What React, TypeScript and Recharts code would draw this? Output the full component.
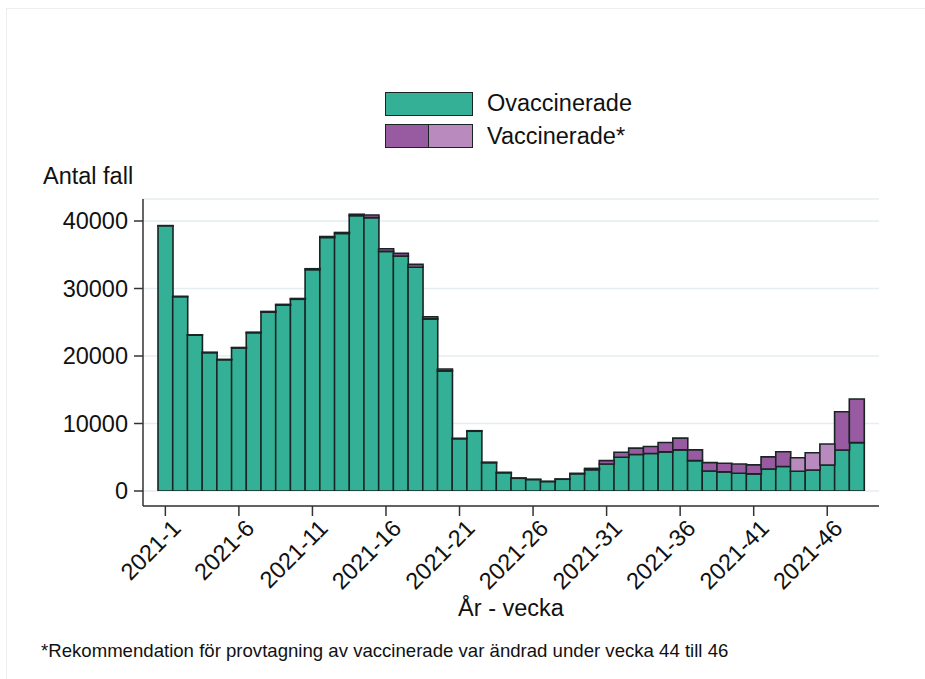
import React from 'react';
import { BarChart, Bar, XAxis, YAxis, CartesianGrid } from 'recharts';

/* ── Data ─────────────────────────────────────────────────────────── */
const weeks = Array.from({ length: 48 }, (_, i) => `2021-${i + 1}`);

// Unvaccinated cases per week
const ovaccinerade = [
  39300, 28800, 23100, 20500, 19450, 21200, 23450, 26500, 27550, 28400,
  32800, 37550, 38150, 40800, 40500, 35500, 34800, 33150, 25500, 17800,
  7750, 8850, 4200, 2700, 1880, 1700, 1400, 1740, 2550, 3150,
  4000, 5000, 5400, 5550, 5800, 6100, 4500, 2970, 2830, 2630,
  2530, 3270, 3620, 2920, 3110, 3850, 6070, 7160,
];

// Vaccinated cases (normal testing recommendation)
const vaccinerade = [
  20, 20, 30, 40, 50, 60, 80, 100, 100, 120,
  130, 150, 150, 200, 400, 400, 410, 430, 320, 270,
  60, 80, 50, 70, 50, 30, 30, 40, 70, 200,
  500, 750, 950, 1040, 1380, 1730, 1600, 1240, 1280, 1370,
  1340, 1790, 2200, 0, 0, 0, 5680, 6470,
];

// Vaccinated cases, weeks 44–46 (changed testing recommendation)
const vaccineradeAndrad = [
  0, 0, 0, 0, 0, 0, 0, 0, 0, 0, 0, 0, 0, 0, 0, 0, 0, 0, 0, 0,
  0, 0, 0, 0, 0, 0, 0, 0, 0, 0, 0, 0, 0, 0, 0, 0, 0, 0, 0, 0,
  0, 0, 0, 2010, 2560, 3110, 0, 0,
];

const yTicks = [0, 10000, 20000, 30000, 40000];

const data = weeks.map((week, i) => ({
  week,
  ovacc: ovaccinerade[i],
  vacc: vaccinerade[i],
  vaccAndrad: vaccineradeAndrad[i],
}));

const GREEN = '#33b096';
const PURPLE = '#985aa0';
const PURPLE_LIGHT = '#b98abd';
const STROKE = '#1b2424';
const FONT = '"Liberation Sans", Arial, sans-serif';
const FS = 23.5;

/* ── Rotated x tick ───────────────────────────────────────────────── */
// eslint-disable-next-line @typescript-eslint/no-explicit-any
function XTick(props: any) {
  const { x, y, payload } = props;
  return (
    <g transform={`translate(${x + 5},${y})`}>
      <text x={0} y={0} dy="0.71em" textAnchor="end" transform="rotate(-45)"
        fill="#111" fontSize={FS} fontFamily={FONT}>
        {payload.value}
      </text>
    </g>
  );
}

export default function App() {
  return (
    <div style={{ position: 'absolute', left: 0, top: 0, width: 925, height: 679, overflow: 'hidden', background: '#fff', fontFamily: FONT }}>
      <div style={{ position: 'absolute', left: 6, top: 8, width: 940, height: 700, border: '1px solid #eeeeee' }} />

      {/* Legend */}
      <div style={{ position: 'absolute', left: 385, top: 92, width: 86, height: 22, background: GREEN, border: `1px solid ${STROKE}` }} />
      <div style={{ position: 'absolute', left: 385, top: 124, width: 43, height: 22, background: PURPLE, border: `1px solid ${STROKE}`, borderRight: 'none' }} />
      <div style={{ position: 'absolute', left: 428, top: 124, width: 43, height: 22, background: PURPLE_LIGHT, border: `1px solid ${STROKE}` }} />
      <div style={{ position: 'absolute', left: 487, top: 89, fontSize: FS, lineHeight: '28px', color: '#111' }}>Ovaccinerade</div>
      <div style={{ position: 'absolute', left: 487, top: 122, fontSize: FS, lineHeight: '28px', color: '#111' }}>Vaccinerade*</div>

      {/* Y title */}
      <div style={{ position: 'absolute', left: 43, top: 162, fontSize: FS, lineHeight: '28px', color: '#111' }}>Antal fall</div>

      <div style={{ position: 'absolute', left: 0, top: 0 }}>
        <BarChart width={925} height={679} data={data}
          margin={{ top: 199, right: 46, bottom: 73, left: 0 }}
          barCategoryGap={0} barGap={0}>
          <CartesianGrid horizontal vertical={false} stroke="#e6edf1" strokeWidth={1.5} />
          <XAxis dataKey="week" interval={4} height={100}
            padding={{ left: 15, right: 15 }}
            axisLine={{ stroke: '#333', strokeWidth: 1.5 }}
            tickLine={{ stroke: '#333', strokeWidth: 1.5 }}
            tickSize={10} tickMargin={2}
            tick={<XTick />} />
          <YAxis width={143} domain={[0, 43260]} ticks={yTicks} allowDataOverflow
            padding={{ top: 0, bottom: 15 }}
            axisLine={{ stroke: '#333', strokeWidth: 1.5 }}
            tickLine={{ stroke: '#333', strokeWidth: 1.5 }}
            tickSize={9} tickMargin={6}
            tick={{ fill: '#111', fontSize: FS, fontFamily: FONT }} />
          <Bar dataKey="ovacc" stackId="a" fill={GREEN} stroke={STROKE} strokeWidth={1.6} isAnimationActive={false} />
          <Bar dataKey="vacc" stackId="a" fill={PURPLE} stroke={STROKE} strokeWidth={1.6} isAnimationActive={false} />
          <Bar dataKey="vaccAndrad" stackId="a" fill={PURPLE_LIGHT} stroke={STROKE} strokeWidth={1.6} isAnimationActive={false} />
        </BarChart>
      </div>

      {/* X title */}
      <div style={{ position: 'absolute', left: 143, width: 736, top: 594, textAlign: 'center', fontSize: FS, lineHeight: '28px', color: '#111' }}>År - vecka</div>

      {/* Footnote */}
      <div style={{ position: 'absolute', left: 41, top: 640, fontSize: 18.6, lineHeight: '22px', color: '#111' }}>
        *Rekommendation för provtagning av vaccinerade var ändrad under vecka 44 till 46
      </div>
    </div>
  );
}
